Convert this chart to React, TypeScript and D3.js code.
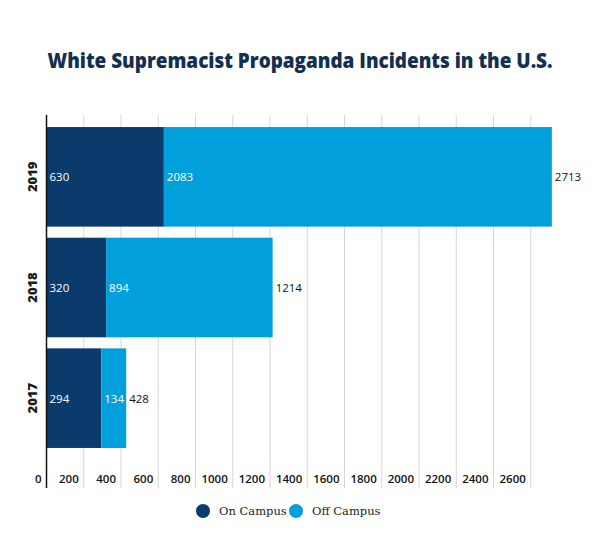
import React from "react";
import * as d3 from "d3";

const years = ["2019", "2018", "2017"];
const onCampus = [630, 320, 294];
const offCampus = [2083, 894, 134];
const ticks = [0, 200, 400, 600, 800, 1000, 1200, 1400, 1600, 1800, 2000, 2200, 2400, 2600];
const seriesNames = ["On Campus", "Off Campus"];
const colors = ["#0b3a6c", "#029fdd"];
const title = "White Supremacist Propaganda Incidents in the U.S.";

const W = 600;
const H = 543;
const sans = "'Open Sans', 'Noto Sans', sans-serif";

export default function App() {
  const x = d3.scaleLinear().domain([0, 2600]).range([46.5, 530.8]);
  const y = d3
    .scaleBand<string>()
    .domain(years)
    .range([121.5, 453.5])
    .paddingInner(0.1)
    .paddingOuter(0.05);
  const gridTop = 115;
  const gridBottom = 488;
  const bw = y.bandwidth();

  return (
    <svg
      width={W}
      height={H}
      style={{ position: "absolute", left: 0, top: 0, background: "#fff" }}
    >
      <text
        x={300}
        y={68}
        textAnchor="middle"
        fontFamily={sans}
        fontWeight={800}
        fontSize={20.5}
        fill="#132f52"
        textLength={505}
        lengthAdjust="spacingAndGlyphs"
      >
        {title}
      </text>

      {ticks.slice(1).map((t) => (
        <line
          key={"g" + t}
          x1={x(t)}
          x2={x(t)}
          y1={gridTop}
          y2={gridBottom}
          stroke="#d6d6d6"
          strokeWidth={1}
        />
      ))}

      {years.map((yr, i) => {
        const y0 = y(yr)!;
        const on = onCampus[i];
        const off = offCampus[i];
        const total = on + off;
        const cy = y0 + bw / 2;
        return (
          <g key={yr}>
            <rect x={x(0)} y={y0} width={x(on) - x(0)} height={bw} fill={colors[0]} />
            <rect x={x(on)} y={y0} width={x(total) - x(on)} height={bw} fill={colors[1]} />
            <text x={x(0) + 3} y={cy} dominantBaseline="central" fontFamily={sans} fontSize={11.5} fill="#fff">
              {on}
            </text>
            <text x={x(on) + 3} y={cy} dominantBaseline="central" fontFamily={sans} fontSize={11.5} fill="#fff">
              {off}
            </text>
            <text x={x(total) + 3} y={cy} dominantBaseline="central" fontFamily={sans} fontSize={11.5} fill="#111">
              {total}
            </text>
            <text
              transform={`translate(32,${cy}) rotate(-90)`}
              textAnchor="middle"
              dominantBaseline="central"
              fontFamily={sans}
              fontWeight={800}
              fontSize={13}
              fill="#1a1a1a"
            >
              {yr}
            </text>
          </g>
        );
      })}

      <line x1={x(0)} x2={x(0)} y1={gridTop} y2={gridBottom} stroke="#111" strokeWidth={1.5} />

      {ticks.map((t) => (
        <text
          key={"t" + t}
          x={x(t) - 5}
          y={483}
          textAnchor="end"
          fontFamily={sans}
          fontWeight={600}
          fontSize={11.5}
          fill="#111"
        >
          {t}
        </text>
      ))}

      {seriesNames.map((name, i) => {
        const cx = i === 0 ? 203 : 296;
        return (
          <g key={name}>
            <circle cx={cx} cy={511} r={7} fill={colors[i]} />
            <text
              x={cx + 16}
              y={515}
              fontFamily="'DejaVu Serif', serif"
              fontSize={11.5}
              fill="#222"
            >
              {name}
            </text>
          </g>
        );
      })}
    </svg>
  );
}
